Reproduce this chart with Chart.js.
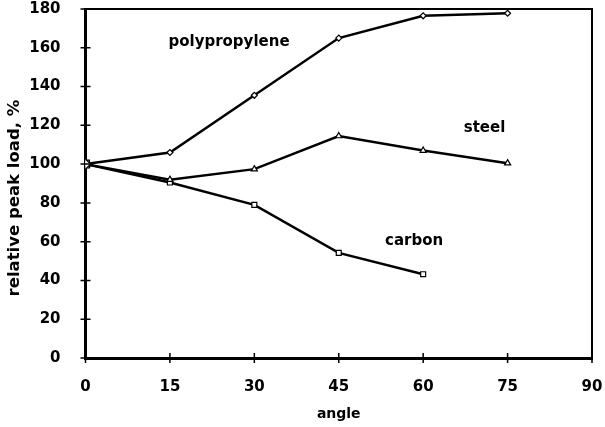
<!DOCTYPE html>
<html>
<head>
<meta charset="utf-8">
<script src="https://cdn.jsdelivr.net/npm/chart.js@4.4.1/dist/chart.umd.min.js"></script>
<style>
  html, body { margin: 0; padding: 0; background: #fff; }
  #wrap { width: 605px; height: 427px; }
</style>
</head>
<body>
<div id="wrap"><canvas id="c" width="605" height="427"></canvas></div>
<script>
// Relative peak load versus fibre inclination angle
const angles = [0, 15, 30, 45, 60, 75];
const polypropylene = [100, 106, 135.5, 165, 176.5, 177.8];
const steel = [100, 92, 97.4, 114.5, 107, 100.5];
const carbon = [100, 90.5, 79, 54.2, 43.2];
const xTicks = [0, 15, 30, 45, 60, 75, 90];
const yTicks = [0, 20, 40, 60, 80, 100, 120, 140, 160, 180];
const xTitle = 'angle';
const yTitle = 'relative peak load, %';

// Curve names written beside each line, anchored in data units
const curveLabels = [
  { text: 'polypropylene', x: 25.5, y: 163 },
  { text: 'steel', x: 70.9, y: 118.6 },
  { text: 'carbon', x: 58.4, y: 60.2 }
];

const FONT = '"DejaVu Sans", "Liberation Sans", Arial, sans-serif';

function toPoints(values) {
  return values.map((v, i) => ({ x: angles[i], y: v }));
}

// Tick marks that cross the axes, the closing frame, the vertical title and curve names
const decorations = {
  id: 'decorations',
  afterDatasetsDraw(chart) {
    const { ctx, chartArea: a, scales: { x, y } } = chart;
    ctx.save();
    ctx.strokeStyle = '#000';
    ctx.lineWidth = 1.5;
    ctx.beginPath();
    xTicks.forEach(t => {
      const px = x.getPixelForValue(t);
      ctx.moveTo(px, a.bottom - 5);
      ctx.lineTo(px, a.bottom + 5);
    });
    yTicks.forEach(t => {
      const py = y.getPixelForValue(t);
      ctx.moveTo(a.left - 5, py);
      ctx.lineTo(a.left + 5, py);
    });
    ctx.stroke();

    // top and right edges of the frame
    ctx.lineWidth = 2;
    ctx.beginPath();
    ctx.moveTo(a.left, a.top);
    ctx.lineTo(a.right, a.top);
    ctx.lineTo(a.right, a.bottom);
    ctx.stroke();

    ctx.fillStyle = '#000';
    ctx.font = 'bold 15px ' + FONT;
    ctx.textAlign = 'center';
    ctx.textBaseline = 'middle';
    curveLabels.forEach(l => {
      ctx.fillText(l.text, x.getPixelForValue(l.x), y.getPixelForValue(l.y));
    });

    // vertical axis title, set slightly below the middle of the axis
    ctx.translate(15, y.getPixelForValue(82.5));
    ctx.rotate(-Math.PI / 2);
    ctx.font = 'bold 16.5px ' + FONT;
    ctx.fillText(yTitle, 0, 0);
    ctx.restore();
  }
};

const lineStyle = {
  borderColor: '#000',
  borderWidth: 2.5,
  pointBackgroundColor: '#fff',
  pointBorderColor: '#000',
  pointBorderWidth: 1.2,
  tension: 0,
  fill: false
};

new Chart(document.getElementById('c'), {
  type: 'line',
  data: {
    datasets: [
      Object.assign({ label: 'polypropylene', data: toPoints(polypropylene),
        pointStyle: 'rectRot', pointRadius: [5, 3, 3, 3, 3, 3] }, lineStyle),
      Object.assign({ label: 'steel', data: toPoints(steel),
        pointStyle: 'triangle', pointRadius: [5, 3.5, 3.5, 3.5, 3.5, 3.5] }, lineStyle),
      Object.assign({ label: 'carbon', data: toPoints(carbon),
        pointStyle: 'rect', pointRadius: [5.5, 3.5, 3.5, 3.5, 3.5] }, lineStyle)
    ]
  },
  options: {
    responsive: false,
    animation: false,
    layout: { padding: { top: 9, right: 13, left: 0, bottom: 0 } },
    plugins: { legend: { display: false }, tooltip: { enabled: false } },
    scales: {
      x: {
        type: 'linear',
        min: 0, max: 90,
        afterBuildTicks(scale) { scale.ticks = xTicks.map(v => ({ value: v })); },
        afterFit(scale) {
          scale.height = 69;
          scale.paddingLeft = 0;
          scale.paddingRight = 0;
        },
        grid: { display: false },
        border: { display: true, color: '#000', width: 3 },
        ticks: { color: '#000', padding: 12, maxRotation: 0,
          font: { family: FONT, size: 15, weight: 'bold' } },
        title: { display: true, text: xTitle, color: '#000', padding: { top: 5 },
          font: { family: FONT, size: 14, weight: 'bold' } }
      },
      y: {
        type: 'linear',
        min: 0, max: 180,
        afterBuildTicks(scale) { scale.ticks = yTicks.map(v => ({ value: v })); },
        afterFit(scale) {
          scale.width = 85.5;
          scale.paddingTop = 0;
          scale.paddingBottom = 0;
        },
        grid: { display: false },
        border: { display: true, color: '#000', width: 3 },
        ticks: { color: '#000', padding: 17,
          font: { family: FONT, size: 15, weight: 'bold' } }
      }
    }
  },
  plugins: [decorations]
});
</script>
</body>
</html>
